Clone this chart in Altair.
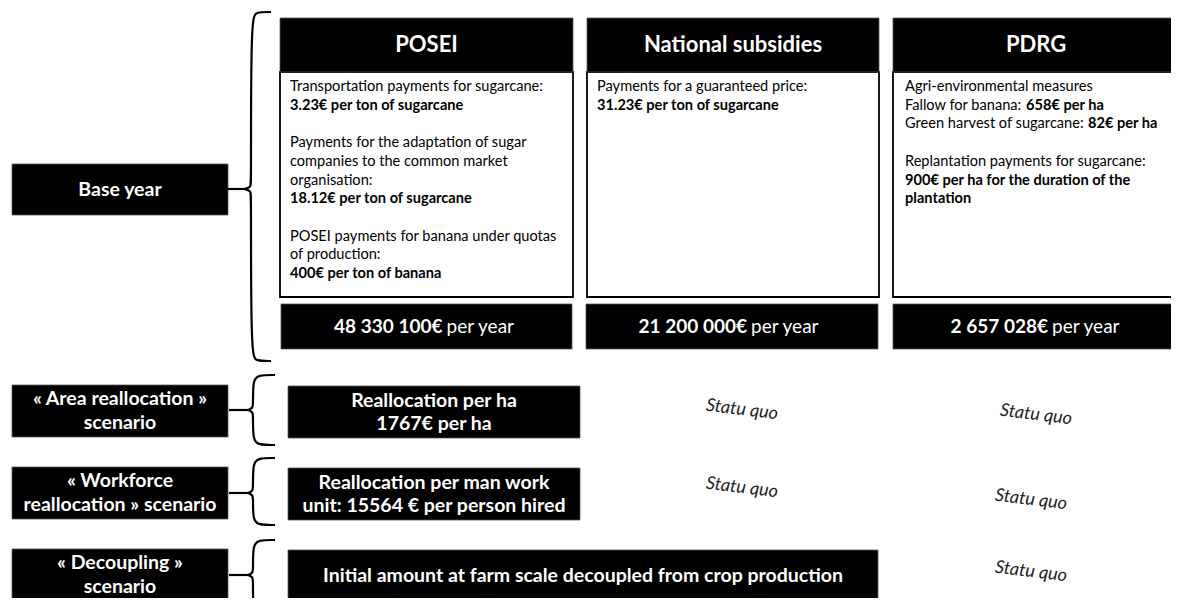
import altair as alt
import pandas as pd

# ---------------- content ----------------
column_titles = ["POSEI", "National subsidies", "PDRG"]
annual_totals = ["48 330 100€", "21 200 000€", "2 657 028€"]
total_unit = "per year"
row_labels = [
    ["Base year"],
    ["« Area reallocation »", "scenario"],
    ["« Workforce", "reallocation » scenario"],
    ["« Decoupling »", "scenario"],
]
posei_body = [
    [("Transportation payments for sugarcane:", "normal")],
    [("3.23€ per ton of sugarcane", "bold")],
    [],
    [("Payments for the adaptation of sugar", "normal")],
    [("companies to the common market", "normal")],
    [("organisation:", "normal")],
    [("18.12€ per ton of sugarcane", "bold")],
    [],
    [("POSEI payments for banana under quotas", "normal")],
    [("of production:", "normal")],
    [("400€ per ton of banana", "bold")],
]
national_body = [
    [("Payments for a guaranteed price:", "normal")],
    [("31.23€ per ton of sugarcane", "bold")],
]
pdrg_body = [
    [("Agri-environmental measures", "normal")],
    [("Fallow for banana:", "normal"), ("658€ per ha", "bold")],
    [("Green harvest of sugarcane:", "normal"), ("82€ per ha", "bold")],
    [],
    [("Replantation payments for sugarcane:", "normal")],
    [("900€ per ha for the duration of the", "bold")],
    [("plantation", "bold")],
]
column_bodies = [posei_body, national_body, pdrg_body]
scenario_cells = [
    ["Reallocation per ha", "1767€ per ha"],
    ["Reallocation per man work", "unit: 15564 € per person hired"],
    ["Initial amount at farm scale decoupled from crop production"],
]
status_quo_text = "Statu quo"

# ---------------- layout (page pixel coordinates) ----------------
FONT = "Lato"
col_x = [(280, 573), (587, 879), (893, 1190)]
header_y = (18, 72)
body_y = (72, 297)
total_x = [(281, 572), (586, 878), (893, 1190)]
total_y = (304, 349)
total_split = [16, 15, 12]
label_x = (12, 228)
label_y = [(164, 215), (385, 437), (467, 519), (549, 601)]
scen_box = [(288, 580, 386, 438), (288, 580, 468, 520), (288, 878, 550, 602)]
body_text_left = [290, 597, 905]
body_first_line = 87
body_step = 18.7
inline_offset = {(2, 1, 1): 121, (2, 2, 1): 183}
statu_pos = [(742, 410), (1036, 415), (742, 488), (1031, 500), (1031, 572)]
braces = [  # vertical x, tip x, top, mid, bottom, point x, connector start
    (251, 271, 12, 189, 361, 245, 228),
    (253, 275, 375, 410, 445, 248, 229),
    (253, 275, 458, 493, 525, 248, 229),
    (253, 275, 540, 575, 620, 248, 229),
]

# ---------------- build tables ----------------
black_rects, white_rects = [], []
for (x0, x1) in col_x:
    black_rects.append(dict(x=x0, x2=x1, y=header_y[0], y2=header_y[1]))
    white_rects.append(dict(x=x0, x2=x1, y=body_y[0], y2=body_y[1]))
for (x0, x1) in total_x:
    black_rects.append(dict(x=x0, x2=x1, y=total_y[0], y2=total_y[1]))
for (y0, y1) in label_y:
    black_rects.append(dict(x=label_x[0], x2=label_x[1], y=y0, y2=y1))
for (x0, x1, y0, y1) in scen_box:
    black_rects.append(dict(x=x0, x2=x1, y=y0, y2=y1))

headers = [dict(x=(a + min(b, 1179)) / 2, y=45, t=t) for (a, b), t in zip(col_x, column_titles)]

body_norm, body_bold = [], []
for ci, body in enumerate(column_bodies):
    for li, segs in enumerate(body):
        for si, (txt, w) in enumerate(segs):
            xx = body_text_left[ci] + inline_offset.get((ci, li, si), 0)
            rec = dict(x=xx, y=body_first_line + li * body_step, t=txt)
            (body_bold if w == "bold" else body_norm).append(rec)

tot_bold, tot_norm = [], []
for (x0, x1), t, s in zip(total_x, annual_totals, total_split):
    cx = (x0 + min(x1, 1179)) / 2 + s
    cy = (total_y[0] + total_y[1]) / 2
    tot_bold.append(dict(x=cx, y=cy, t=t))
    tot_norm.append(dict(x=cx + 4, y=cy, t=total_unit))

white_center = []
for (y0, y1), lines in zip(label_y, row_labels):
    cy = (y0 + y1) / 2
    n = len(lines)
    for i, ln in enumerate(lines):
        white_center.append(dict(x=sum(label_x) / 2, y=cy + (i - (n - 1) / 2) * 24, t=ln))
for (x0, x1, y0, y1), lines in zip(scen_box, scenario_cells):
    cy = (y0 + y1) / 2
    n = len(lines)
    for i, ln in enumerate(lines):
        white_center.append(dict(x=(x0 + x1) / 2, y=cy + (i - (n - 1) / 2) * 23, t=ln))

statu = [dict(x=x, y=y, t=status_quo_text) for x, y in statu_pos]

brace_pts, connectors = [], []
for bi, (xv, tip, top, mid, bot, px, cx0) in enumerate(braces):
    pts = [(tip, top)] * 3 + [(xv + 5, top), (xv, top + 5), (xv, mid - 7), (xv, mid - 2)] + \
          [(px, mid)] * 3 + [(xv, mid + 2), (xv, mid + 7), (xv, bot - 5), (xv + 5, bot)] + [(tip, bot)] * 3
    for k, (x, y) in enumerate(pts):
        brace_pts.append(dict(b=bi, k=k, x=x, y=y))
    connectors.append(dict(x=cx0, x2=px + 1, y=mid))

# ---------------- chart ----------------
X = alt.X("x:Q", scale=alt.Scale(domain=[8, 1171], nice=False, zero=False), axis=None)
Y = alt.Y("y:Q", scale=alt.Scale(domain=[8, 598], nice=False, zero=False, reverse=True), axis=None)

def df(rows):
    return alt.Data(values=rows)

layers = [
    alt.Chart(df(white_rects)).mark_rect(fill="white", stroke="black", strokeWidth=1.8).encode(
        x=X, x2="x2:Q", y=Y, y2="y2:Q"),
    alt.Chart(df(black_rects)).mark_rect(fill="black", stroke="#555", strokeWidth=0.8).encode(
        x=X, x2="x2:Q", y=Y, y2="y2:Q"),
    alt.Chart(df(headers)).mark_text(font=FONT, fontSize=22, fontWeight="bold", color="white",
                                     align="center", baseline="middle").encode(x=X, y=Y, text="t:N"),
    alt.Chart(df(body_norm)).mark_text(font=FONT, fontSize=14.6, color="black",
                                       align="left", baseline="middle").encode(x=X, y=Y, text="t:N"),
    alt.Chart(df(body_bold)).mark_text(font=FONT, fontSize=14.6, fontWeight="bold", color="black",
                                       align="left", baseline="middle").encode(x=X, y=Y, text="t:N"),
    alt.Chart(df(tot_bold)).mark_text(font=FONT, fontSize=19, fontWeight="bold", color="white",
                                      align="right", baseline="middle").encode(x=X, y=Y, text="t:N"),
    alt.Chart(df(tot_norm)).mark_text(font=FONT, fontSize=19, color="white",
                                      align="left", baseline="middle").encode(x=X, y=Y, text="t:N"),
    alt.Chart(df(white_center)).mark_text(font=FONT, fontSize=19.5, fontWeight="bold", color="white",
                                          align="center", baseline="middle").encode(x=X, y=Y, text="t:N"),
    alt.Chart(df(statu)).mark_text(font=FONT, fontSize=18, fontStyle="italic", color="#222",
                                   align="center", baseline="middle", angle=7).encode(x=X, y=Y, text="t:N"),
    alt.Chart(df(brace_pts)).mark_line(interpolate="basis", color="black", strokeWidth=2.2).encode(
        x=X, y=Y, detail="b:N", order="k:Q"),
    alt.Chart(df(connectors)).mark_rule(color="black", strokeWidth=2.2).encode(
        x=X, x2="x2:Q", y=Y),
]

chart = alt.layer(*layers).properties(
    width=1163, height=590, autosize="none", padding=0
).configure_view(stroke=None)

chart.save("out.html", embed_options={"renderer": "svg", "actions": False})
